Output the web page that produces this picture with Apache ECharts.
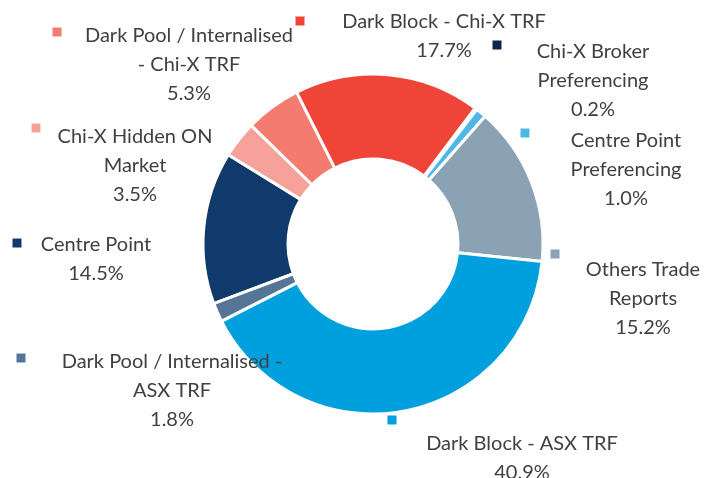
<!DOCTYPE html>
<html>
<head>
<meta charset="utf-8">
<script src="https://cdn.jsdelivr.net/npm/echarts@6/dist/echarts.min.js"></script>
<style>
    html, body { margin: 0; padding: 0; background: #fff; }
    #chart { width: 707px; height: 478px; }
</style>
</head>
<body>
<div id="chart"></div>
<script>
    // slice data, clockwise from Centre Point
    var categories = [
        'Centre Point',
        'Chi-X Hidden ON Market',
        'Dark Pool / Internalised - Chi-X TRF',
        'Dark Block - Chi-X TRF',
        'Chi-X Broker Preferencing',
        'Centre Point Preferencing',
        'Others Trade Reports',
        'Dark Block - ASX TRF',
        'Dark Pool / Internalised - ASX TRF'
    ];
    var shares = [14.5, 3.5, 5.3, 17.7, 0.2, 1.0, 15.2, 40.9, 1.8];
    // how each label is wrapped in the picture
    var labelLines = [
        ['Centre Point'],
        ['Chi-X Hidden ON', 'Market'],
        ['Dark Pool / Internalised', '- Chi-X TRF'],
        ['Dark Block - Chi-X TRF'],
        ['Chi-X Broker', 'Preferencing'],
        ['Centre Point', 'Preferencing'],
        ['Others Trade', 'Reports'],
        ['Dark Block - ASX TRF'],
        ['Dark Pool / Internalised -', 'ASX TRF']
    ];

    var colors = ['#0f3a6b', '#f6a29a', '#f37b70', '#ef4438', '#0d2748',
                  '#4db8e8', '#8ba1b4', '#00a0de', '#557597'];

    // label placement (text centre x, first line centre y) and legend key centre
    var textPos = [[96, 245], [135, 137], [189, 36], [444, 22], [593, 52],
                   [626, 141], [643, 270], [522, 444], [172, 362]];
    var keyPos = [[17, 243], [36, 128], [57, 32], [300, 21], [497, 45],
                  [525, 133], [555, 254], [392, 420], [21, 358]];

    var LINE_H = 29;
    var chart = echarts.init(document.getElementById('chart'));

    var pieData = [];
    var keyData = [];
    for (var i = 0; i < shares.length; i++) {
        pieData.push({ name: categories[i], value: shares[i], itemStyle: { color: colors[i] } });
        keyData.push({ name: categories[i], value: shares[i], label: { backgroundColor: colors[i] } });
    }

    var option = {
        backgroundColor: '#fff',
        animation: false,
        series: [
            {
                type: 'pie',
                center: [373, 244],
                radius: [85, 170],
                startAngle: -159.5,
                clockwise: true,
                avoidLabelOverlap: false,
                data: pieData,
                itemStyle: { borderColor: '#fff', borderWidth: 3 },
                labelLine: { show: false },
                emphasis: { disabled: true },
                label: {
                    show: true,
                    position: 'outside',
                    fontFamily: 'Lato',
                    fontSize: 20,
                    lineHeight: LINE_H,
                    color: '#404040',
                    align: 'center',
                    formatter: function (p) {
                        return labelLines[p.dataIndex].join('\n') + '\n' + p.value.toFixed(1) + '%';
                    }
                },
                labelLayout: function (p) {
                    var pos = textPos[p.dataIndex];
                    return { x: pos[0], y: pos[1] - LINE_H / 2, align: 'center', verticalAlign: 'top' };
                }
            },
            {
                // invisible copy, only carries the square legend keys
                type: 'pie',
                silent: true,
                center: [373, 244],
                radius: [85, 170],
                startAngle: -159.5,
                data: keyData,
                itemStyle: { color: 'rgba(0,0,0,0)' },
                labelLine: { show: false },
                emphasis: { disabled: true },
                label: {
                    show: true,
                    position: 'outside',
                    formatter: '{k|}',
                    rich: { k: { width: 9, height: 9 } },
                    padding: 0
                },
                labelLayout: function (p) {
                    var pos = keyPos[p.dataIndex];
                    return { x: pos[0] - 4.5, y: pos[1] - 4.5, align: 'left', verticalAlign: 'top' };
                }
            }
        ]
    };
    chart.setOption(option);
</script>
</body>
</html>
